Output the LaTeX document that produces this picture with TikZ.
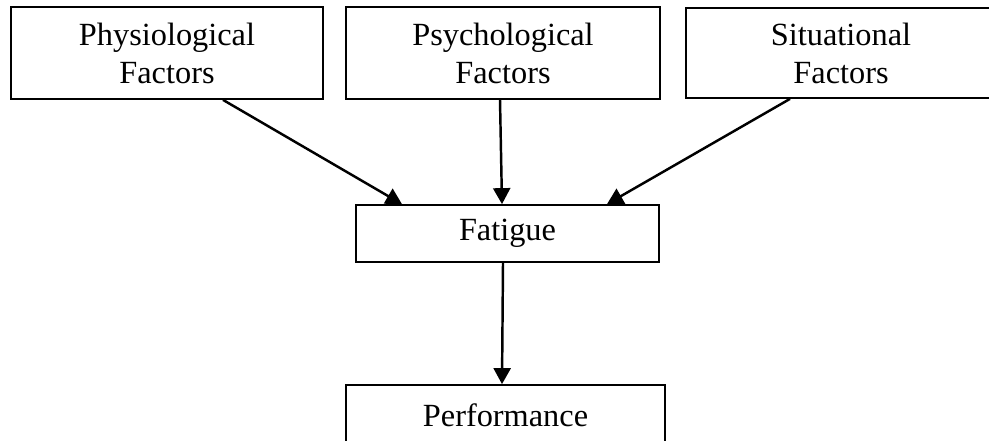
\documentclass[tikz,border=0pt]{standalone}
\usepackage{fontspec}
\setmainfont{Liberation Serif}
\usetikzlibrary{arrows.meta}

\begin{document}
\begin{tikzpicture}[
	factorbox/.style={draw, line width=1pt, minimum height=1.84cm, inner sep=0pt, align=center, font=\fontsize{18.4}{21.6}\selectfont},
	flow/.style={-{Triangle[length=0.32cm,width=0.34cm]}, line width=1.4pt}]
		\useasboundingbox (0,0) rectangle (19.78,-8.8);
		\node[factorbox, minimum width=6.24cm] (physio) at (3.34,-1.06) {Physiological\\Factors};
		\node[factorbox, minimum width=6.28cm] (psycho) at (10.06,-1.06) {Psychological\\Factors};
		\node[factorbox, minimum width=6.2cm, minimum height=1.8cm] (situ) at (16.82,-1.06) {Situational\\Factors};
		\node[factorbox, minimum width=6.06cm, minimum height=1.14cm] (fatigue) at (10.15,-4.67) {Fatigue};
		\node[factorbox, minimum width=6.38cm, minimum height=1.22cm] (perf) at (10.11,-8.31) {Performance};
		\draw[flow] ([xshift=1.12cm]physio.south) -- ([xshift=-2.11cm]fatigue.north);
		\draw[flow] ([xshift=-0.06cm]psycho.south) -- ([xshift=-0.11cm]fatigue.north);
		\draw[flow] ([xshift=-1.02cm]situ.south) -- ([xshift=1.99cm]fatigue.north);
		\draw[flow] ([xshift=-0.09cm]fatigue.south) -- ([xshift=-0.07cm]perf.north);
	\end{tikzpicture}
\end{document}
